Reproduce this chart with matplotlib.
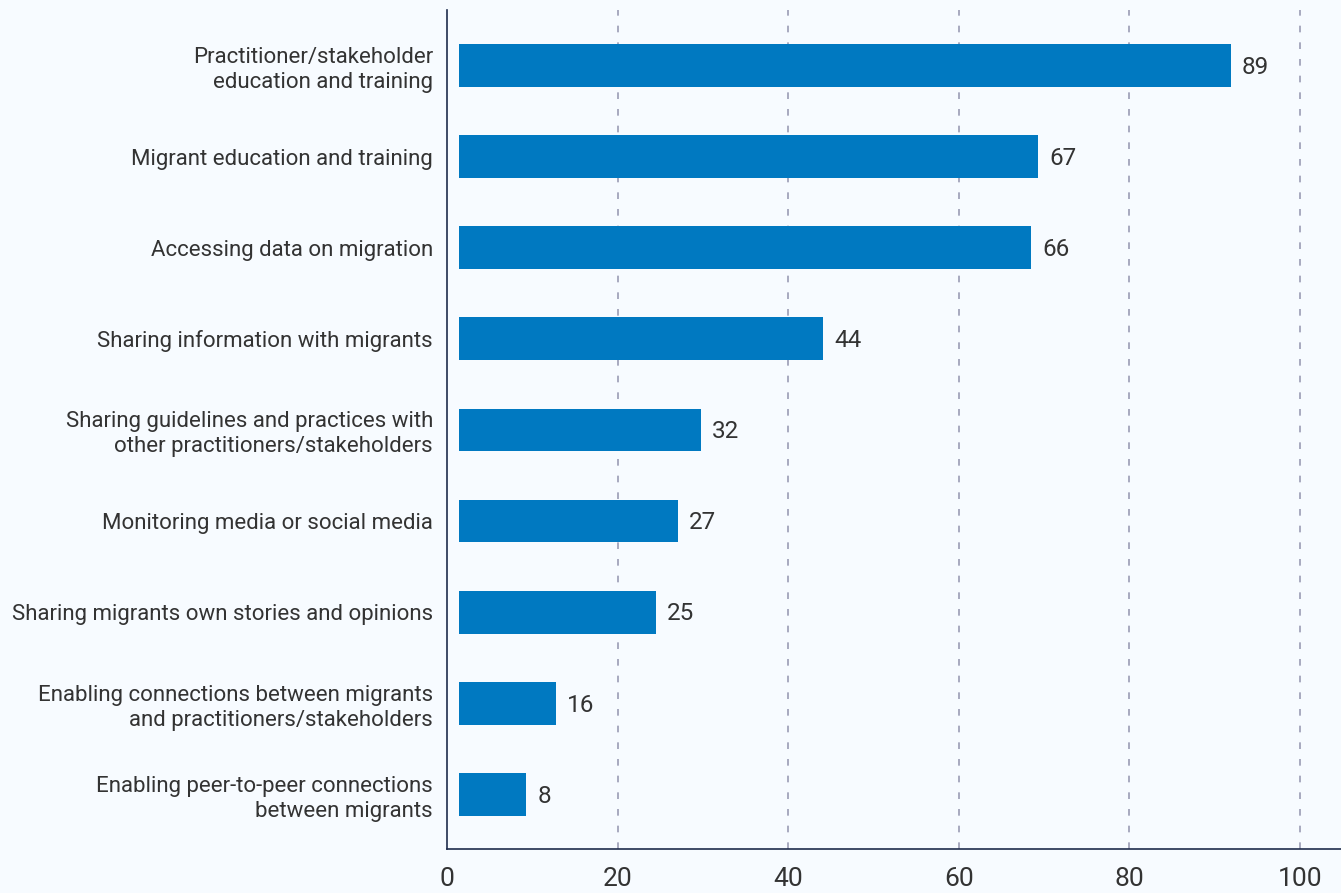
import matplotlib.pyplot as plt
import numpy as np

# categories (top to bottom) and the printed values
categories = [
    "Practitioner/stakeholder\neducation and training",
    "Migrant education and training",
    "Accessing data on migration",
    "Sharing information with migrants",
    "Sharing guidelines and practices with\nother practitioners/stakeholders",
    "Monitoring media or social media",
    "Sharing migrants own stories and opinions",
    "Enabling connections between migrants\nand practitioners/stakeholders",
    "Enabling peer-to-peer connections\nbetween migrants",
]
values = [89, 67, 66, 44, 32, 27, 25, 16, 8]
# bar ends as drawn in the picture (axis units)
bar_ends = [91.9, 69.3, 68.5, 44.1, 29.8, 27.1, 24.5, 12.8, 9.3]
xticks = [0, 20, 40, 60, 80, 100]

bg = "#f7fbff"
bar_color = "#0079c1"
text_color = "#333333"
spine_color = "#1f2d4d"

plt.rcParams['font.family'] = ['Roboto', 'DejaVu Sans']

fig = plt.figure(figsize=(13.41, 8.93), dpi=100, facecolor=bg)
ax = fig.add_axes([447 / 1341, 44 / 893, 1 - 447 / 1341, 839 / 893])
ax.set_facecolor(bg)

y = np.arange(len(categories))
start = 1.4  # bars start a little right of the axis line
ax.barh(y, np.array(bar_ends) - start, left=start, height=0.47,
        color=bar_color, zorder=3)

for yi, end, v in zip(y, bar_ends, values):
    ax.text(end + 1.3, yi + 0.02, str(v), va="center", ha="left",
            fontsize=17.5, color=text_color)

ax.set_xlim(0, 104.8)
ax.set_ylim(len(categories) - 1 + 0.6, -0.61)

ax.set_yticks(y)
ax.set_yticklabels(categories, fontsize=16, color=text_color, linespacing=1.25)
ax.tick_params(axis="y", length=0, pad=10)

ax.set_xticks(xticks)
ax.set_xticklabels([str(t) for t in xticks], fontsize=19, color=text_color)
ax.tick_params(axis="x", length=0, pad=13)

for t in xticks[1:]:
    ax.axvline(t, color="#9a9cb4", linestyle=(0, (4, 6)), linewidth=1.2, zorder=1)

for s in ["top", "right"]:
    ax.spines[s].set_visible(False)
for s in ["left", "bottom"]:
    ax.spines[s].set_color(spine_color)
    ax.spines[s].set_linewidth(1.2)

fig.savefig("out.png", dpi=100, facecolor=bg)
